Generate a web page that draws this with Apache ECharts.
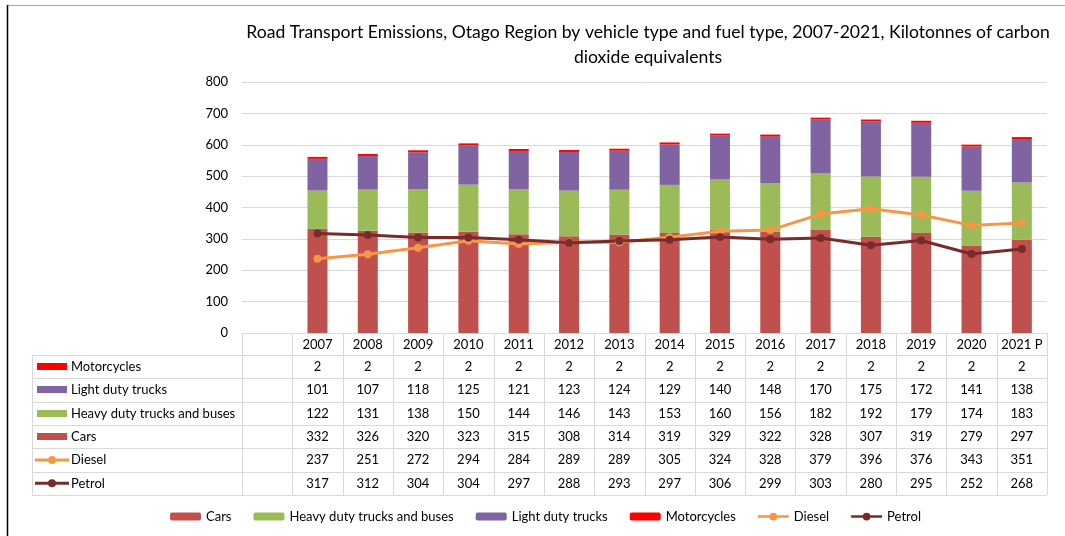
<!DOCTYPE html>
<html>
<head>
<meta charset="utf-8">
<script src="https://cdn.jsdelivr.net/npm/echarts@6/dist/echarts.min.js"></script>
<style>html,body{margin:0;padding:0;background:#fff}#main{width:1065px;height:536px}</style>
</head>
<body>
<div id="main"></div>
<script>
const titleText = 'Road Transport Emissions, Otago Region by vehicle type and fuel type, 2007-2021, Kilotonnes of carbon\ndioxide equivalents';
const years = ['2007','2008','2009','2010','2011','2012','2013','2014','2015','2016','2017','2018','2019','2020','2021 P'];
const cars = [332,326,320,323,315,308,314,319,329,322,328,307,319,279,297];
const heavy = [122,131,138,150,144,146,143,153,160,156,182,192,179,174,183];
const light = [101,107,118,125,121,123,124,129,140,148,170,175,172,141,138];
const moto = [2,2,2,2,2,2,2,2,2,2,2,2,2,2,2];
const diesel = [237,251,272,294,284,289,289,305,324,328,379,396,376,343,351];
const petrol = [317,312,304,304,297,288,293,297,306,299,303,280,295,252,268];
const yTicks = [0,100,200,300,400,500,600,700,800];

const FONT = 'Lato, "Open Sans", sans-serif';
const FS = 13;
const C = {cars:'#C0504D', heavy:'#9BBB59', light:'#8064A2', moto:'#FF0000', diesel:'#F79646', petrol:'#772C2A'};
const cats = [''].concat(years);
const pad = a => [null].concat(a);
const LINE_ICON = 'path://M0,2.6H32V5.4H0Z M12,4A4,4,0,1,1,20,4A4,4,0,1,1,12,4Z';

const barSeries = (name, data, color, extra) => Object.assign({
  name, type:'bar', stack:'v', data: pad(data), barWidth: 20,
  itemStyle:{color}, emphasis:{disabled:true}
}, extra || {});
const lineSeries = (name, data, color) => ({
  name, type:'line', data: pad(data), symbol:'circle', symbolSize:8,
  lineStyle:{color, width:3}, itemStyle:{color}, z:5, emphasis:{disabled:true}
});

const option = {
  animation:false,
  textStyle:{fontFamily:FONT},
  title:{
    text:titleText, left:643, top:15, textAlign:'center',
    textStyle:{fontFamily:FONT, fontSize:17.6, fontWeight:'normal', color:'#000', lineHeight:25}
  },
  grid:{left:242, right:18, top:82, bottom:203, containLabel:false},
  xAxis:{
    type:'category', data:cats,
    axisLine:{show:true, lineStyle:{color:'#D9D9D9'}},
    axisTick:{show:false},
    axisLabel:{color:'#000', fontSize:FS, fontFamily:FONT, margin:5, interval:0}
  },
  yAxis:{
    type:'value', min:yTicks[0], max:yTicks[yTicks.length-1], interval:100,
    axisLine:{show:false}, axisTick:{show:false},
    axisLabel:{color:'#000', fontSize:FS, fontFamily:FONT, margin:14},
    splitLine:{lineStyle:{color:'#D9D9D9'}}
  },
  legend:{
    bottom:8, left:165, itemWidth:31, itemHeight:8, itemGap:22,
    textStyle:{fontSize:FS, fontFamily:FONT, color:'#000'},
    data:['Cars','Heavy duty trucks and buses','Light duty trucks','Motorcycles',
      {name:'Diesel', icon:LINE_ICON, itemStyle:{color:C.diesel}},
      {name:'Petrol', icon:LINE_ICON, itemStyle:{color:C.petrol}}]
  },
  series:[
    barSeries('Cars', cars, C.cars),
    barSeries('Heavy duty trucks and buses', heavy, C.heavy),
    barSeries('Light duty trucks', light, C.light),
    barSeries('Motorcycles', moto, C.moto, {barMinHeight:2}),
    lineSeries('Diesel', diesel, C.diesel),
    lineSeries('Petrol', petrol, C.petrol)
  ]
};

const chart = echarts.init(document.getElementById('main'));
chart.setOption(option);

// Data table drawn under the axis, positioned through the axis scale
const tableRows = [
  {name:'Motorcycles', data:moto, color:C.moto, kind:'bar'},
  {name:'Light duty trucks', data:light, color:C.light, kind:'bar'},
  {name:'Heavy duty trucks and buses', data:heavy, color:C.heavy, kind:'bar'},
  {name:'Cars', data:cars, color:C.cars, kind:'bar'},
  {name:'Diesel', data:diesel, color:C.diesel, kind:'line'},
  {name:'Petrol', data:petrol, color:C.petrol, kind:'line'}
];
(function buildTable(){
  const g = [];
  const c0 = chart.convertToPixel({xAxisIndex:0}, 0);
  const c1 = chart.convertToPixel({xAxisIndex:0}, 1);
  const w = c1 - c0;
  const left = c0 - w/2;
  const right = left + w*cats.length;
  const yAxis0 = chart.convertToPixel({yAxisIndex:0}, 0);
  const headerH = 22, rowH = 23.33, labelLeft = 32;
  const top0 = yAxis0;
  const rowsTop = top0 + headerH;
  const bottom = rowsTop + rowH*tableRows.length;
  const stroke = '#D9D9D9';
  const crisp = v => Math.round(v) + 0.5;
  const hl = (x1,x2,y) => g.push({type:'line', silent:true, shape:{x1:x1, y1:crisp(y), x2:x2, y2:crisp(y)}, style:{stroke, lineWidth:1}});
  const vl = (x,y1,y2) => g.push({type:'line', silent:true, shape:{x1:crisp(x), y1:y1, x2:crisp(x), y2:y2}, style:{stroke, lineWidth:1}});
  for (let r = 0; r <= tableRows.length; r++) hl(labelLeft, right, rowsTop + r*rowH);
  for (let i = 0; i <= cats.length; i++) vl(left + i*w, top0, bottom);
  vl(labelLeft, rowsTop, bottom);
  const font = FS + 'px ' + FONT;
  tableRows.forEach((row, r) => {
    const cy = rowsTop + r*rowH + rowH/2;
    if (row.kind === 'bar') {
      g.push({type:'rect', silent:true, shape:{x:37, y:Math.round(cy-3.5), width:30, height:7}, style:{fill:row.color}});
    } else {
      g.push({type:'line', silent:true, shape:{x1:35, y1:cy, x2:69, y2:cy}, style:{stroke:row.color, lineWidth:3}});
      g.push({type:'circle', silent:true, shape:{cx:52, cy:cy, r:4}, style:{fill:row.color}});
    }
    g.push({type:'text', silent:true, x:71, y:cy, style:{text:row.name, fill:'#000', font, align:'left', verticalAlign:'middle', textAlign:'left', textVerticalAlign:'middle'}});
    row.data.forEach((v, i) => {
      const cx = chart.convertToPixel({xAxisIndex:0}, i+1);
      g.push({type:'text', silent:true, x:cx, y:cy, style:{text:String(v), fill:'#000', font, align:'center', verticalAlign:'middle', textAlign:'center', textVerticalAlign:'middle'}});
    });
  });
  // outer frame of the picture
  g.push({type:'line', silent:true, shape:{x1:7, y1:5.5, x2:1065, y2:5.5}, style:{stroke:'#A6A6A6', lineWidth:1}});
  g.push({type:'line', silent:true, shape:{x1:7.5, y1:5, x2:7.5, y2:536}, style:{stroke:'#000', lineWidth:1.5}});
  chart.setOption({graphic:g});
})();
</script>
</body>
</html>
